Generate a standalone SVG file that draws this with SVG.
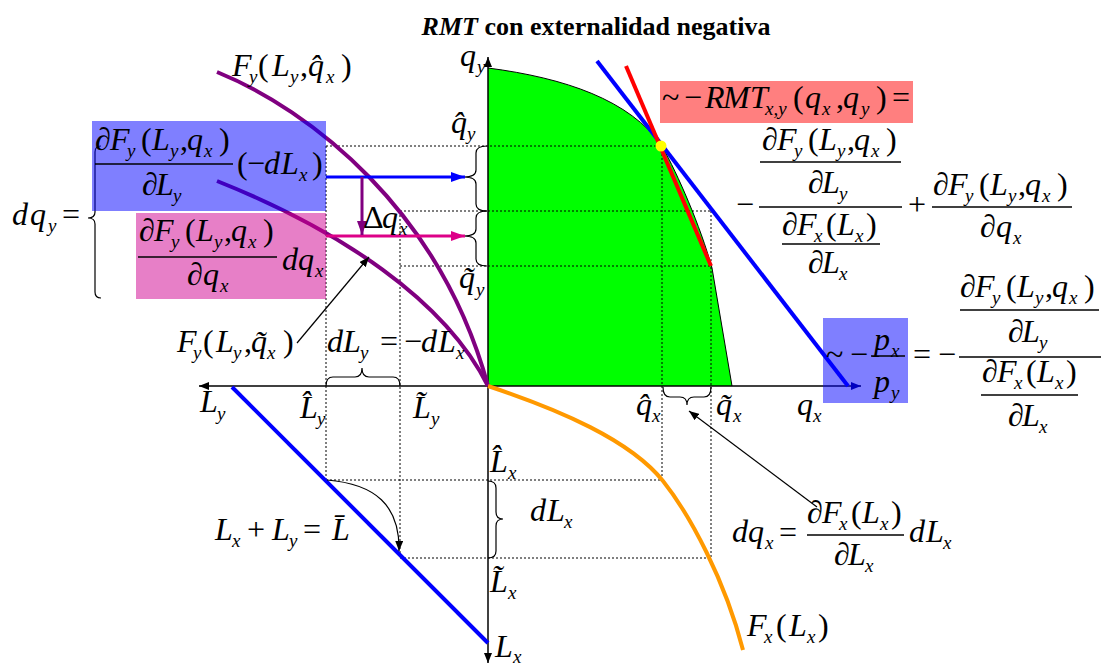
<svg xmlns="http://www.w3.org/2000/svg" width="1105" height="664" viewBox="0 0 1105 664">
<style>
.m{font-family:"Liberation Serif","Times New Roman",serif;font-size:32px;font-style:italic;fill:#000}
.u{font-style:normal}
.s{font-size:19px}
.dot{stroke:#000;stroke-width:1;stroke-dasharray:2 2;fill:none}
.bar{stroke:#000;stroke-width:1.3}
.br{fill:none;stroke:#000;stroke-width:1.2}
.ax{stroke:#000;stroke-width:1.5;fill:none}
.thick{fill:none;stroke-width:4}
</style>
<defs>
<marker id="ax" viewBox="0 0 10 8" refX="10" refY="4" markerWidth="10" markerHeight="8" markerUnits="userSpaceOnUse" orient="auto"><path d="M0,0 L10,4 L0,8 z" fill="#000"/></marker>
<marker id="axn" viewBox="0 0 10 8" refX="10" refY="4" markerWidth="10" markerHeight="8" markerUnits="userSpaceOnUse" orient="auto"><path d="M0,0 L10,4 L0,8 z" fill="#000080"/></marker>
<marker id="ab" viewBox="0 0 10 8" refX="10" refY="4" markerWidth="10" markerHeight="8" markerUnits="userSpaceOnUse" orient="auto"><path d="M0,0 L10,4 L0,8 z" fill="#000"/></marker>
<marker id="mb" viewBox="0 0 14 10" refX="14" refY="5" markerWidth="14" markerHeight="10" markerUnits="userSpaceOnUse" orient="auto"><path d="M0,0 L14,5 L0,10 z" fill="#0000FF"/></marker>
<marker id="mm" viewBox="0 0 14 10" refX="14" refY="5" markerWidth="14" markerHeight="10" markerUnits="userSpaceOnUse" orient="auto"><path d="M0,0 L14,5 L0,10 z" fill="#DD0088"/></marker>
<marker id="mp" viewBox="0 0 14 10" refX="14" refY="5" markerWidth="14" markerHeight="10" markerUnits="userSpaceOnUse" orient="auto"><path d="M0,0 L14,5 L0,10 z" fill="#800080"/></marker>
</defs>
<rect width="1105" height="664" fill="#fff"/>

<g id="title"><text x="596" y="35" text-anchor="middle" font-family="Liberation Serif, serif" font-weight="bold" font-size="26"><tspan font-style="italic">RMT</tspan> con externalidad negativa</text></g>

<g id="ppf-region">
<path d="M488,68 C565,78 630,100 662,146 C678,175 700,225 712,268 L732,386 L488,386 Z" fill="#00FF00"/>
<path d="M488,68 C565,78 630,100 662,146 C678,175 700,225 712,268 L732,386" fill="none" stroke="#000" stroke-width="1"/>
</g>

<g id="grid">
<path class="dot" d="M326,146 H662 M400,211 H711 M400,266 H711 M326,480 H662 M400,558 H711 M326,146 V480 M400,211 V558 M662,146 V480 M711,211 V558"/>
</g>

<g id="axes">
<path class="ax" d="M488,386 V57" marker-end="url(#ax)"/>
<path class="ax" d="M488,386 H199" marker-end="url(#ax)"/>
<path class="ax" d="M488,386 H861" marker-end="url(#axn)"/>
<path class="ax" d="M488,386 V663" marker-end="url(#ax)"/>
</g>

<g id="curves">
<path class="thick" stroke="#800080" d="M217,72 C310,110 440,210 488,386"/>
<path class="thick" stroke="#800080" d="M217,181 C340,230 445,300 488,386"/>
<path class="thick" stroke="#FF9900" d="M488,386 C560,410 630,440 663,481 C690,515 725,580 743,650"/>
<path class="thick" stroke="#0000FF" d="M232,387 L488,643"/>
<path class="thick" stroke="#0000FF" d="M597,61 L848,386"/>
<path class="thick" stroke="#FF0000" d="M626,66 L711,266"/>
<circle cx="661" cy="146" r="5.5" fill="#FFFF00"/>
</g>

<g id="braces">
<path class="br" d="M487,146 Q476,146 476,153 L476,170 Q476,177 464,177 Q476,177 476,184 L476,204 Q476,211 487,211"/>
<path class="br" d="M487,211 Q476,211 476,218 L476,229 Q476,236 464,236 Q476,236 476,243 L476,259 Q476,266 487,266"/>
<path class="br" d="M101,146 Q95,146 95,152 L95,212 Q95,218 88,218 Q95,218 95,224 L95,292 Q95,298 101,298"/>
<path class="br" d="M326,386 Q326,377 333,377 L355,377 Q362,377 362,368 Q362,377 369,377 L393,377 Q400,377 400,386"/>
<path class="br" d="M663,387 Q663,397 670,397 L680,397 Q687,397 687,405 Q687,397 694,397 L704,397 Q711,397 711,387"/>
<path class="br" d="M488,481 Q496,481 496,488 L496,512 Q496,519 503,519 Q496,519 496,526 L496,551 Q496,558 488,558"/>
</g>

<g id="connectors">
<path d="M326,177 H465" stroke="#0000FF" stroke-width="3" fill="none" marker-end="url(#mb)"/>
<path d="M326,236 H465" stroke="#DD0088" stroke-width="3" fill="none" marker-end="url(#mm)"/>
<path d="M362,177 V235" stroke="#800080" stroke-width="3" fill="none" marker-end="url(#mp)"/>
<path d="M297,343 L369,257" stroke="#000" stroke-width="1.2" fill="none" marker-end="url(#ab)"/>
<path d="M817,507 L689,411" stroke="#000" stroke-width="1.2" fill="none" marker-end="url(#ab)"/>
<path d="M327,480 C375,484 400,505 399,551" stroke="#000" stroke-width="1.2" fill="none" marker-end="url(#ab)"/>
</g>

<g id="boxes">
<rect x="92" y="121" width="234" height="90" fill="#0000FF" fill-opacity="0.5"/>
<rect x="136" y="213" width="190" height="86" fill="#D00090" fill-opacity="0.5"/>
<rect x="660" y="81" width="253" height="42" fill="#FF0000" fill-opacity="0.5"/>
<rect x="823" y="318" width="85" height="85" fill="#0000FF" fill-opacity="0.5"/>
</g>

<g id="label-Fy-hat">
<text class="m"><tspan x="232" y="76">F</tspan><tspan class="s" x="249" y="83">y</tspan><tspan class="u" x="258" y="76">(</tspan><tspan x="272" y="76">L</tspan><tspan class="s" x="290" y="83">y</tspan><tspan class="u" x="300" y="76">,</tspan><tspan x="308" y="76">q̂</tspan><tspan class="s" x="326" y="83">x</tspan><tspan class="u" x="341" y="76">)</tspan></text>
</g>

<g id="label-qy-axis">
<text class="m"><tspan x="460" y="66">q</tspan><tspan class="s" x="477" y="73">y</tspan></text>
<text class="m"><tspan x="451" y="133">q̂</tspan><tspan class="s" x="467" y="140">y</tspan></text>
<text class="m"><tspan x="459" y="288">q̃</tspan><tspan class="s" x="476" y="296">y</tspan></text>
</g>

<g id="label-dqy">
<text class="m"><tspan x="12" y="225">d</tspan><tspan x="30" y="225">q</tspan><tspan class="s" x="48" y="232">y</tspan><tspan class="u" x="62" y="225">=</tspan></text>
</g>

<g id="node-blue-term">
<text class="m"><tspan x="95" y="150">∂</tspan><tspan x="110" y="150">F</tspan><tspan class="s" x="127" y="157">y</tspan><tspan class="u" x="141" y="150">(</tspan><tspan x="152" y="150">L</tspan><tspan class="s" x="170" y="157">y</tspan><tspan class="u" x="180" y="150">,</tspan><tspan x="187" y="150">q</tspan><tspan class="s" x="204" y="157">x</tspan><tspan class="u" x="219" y="150">)</tspan></text>
<line class="bar" x1="95" y1="164" x2="233" y2="164"/>
<text class="m"><tspan x="142" y="195">∂</tspan><tspan x="156" y="195">L</tspan><tspan class="s" x="173" y="202">y</tspan></text>
<text class="m"><tspan class="u" x="237" y="174">(</tspan><tspan class="u" x="247" y="174">−</tspan><tspan x="264" y="174">d</tspan><tspan x="281" y="174">L</tspan><tspan class="s" x="299" y="181">x</tspan><tspan class="u" x="312" y="174">)</tspan></text>
</g>

<g id="node-pink-term">
<text class="m"><tspan x="139" y="241">∂</tspan><tspan x="154" y="241">F</tspan><tspan class="s" x="171" y="248">y</tspan><tspan class="u" x="185" y="241">(</tspan><tspan x="196" y="241">L</tspan><tspan class="s" x="214" y="248">y</tspan><tspan class="u" x="224" y="241">,</tspan><tspan x="231" y="241">q</tspan><tspan class="s" x="248" y="248">x</tspan><tspan class="u" x="263" y="241">)</tspan></text>
<line class="bar" x1="138" y1="257" x2="277" y2="257"/>
<text class="m"><tspan x="187" y="285">∂</tspan><tspan x="203" y="285">q</tspan><tspan class="s" x="220" y="292">x</tspan></text>
<text class="m"><tspan x="282" y="270">d</tspan><tspan x="298" y="270">q</tspan><tspan class="s" x="315" y="277">x</tspan></text>
</g>

<g id="label-delta-qx">
<text class="m"><tspan class="u" x="363" y="228">Δ</tspan><tspan x="382" y="228">q</tspan><tspan class="s" x="399" y="235">x</tspan></text>
</g>

<g id="label-Fy-tilde">
<text class="m"><tspan x="177" y="352">F</tspan><tspan class="s" x="193" y="359">y</tspan><tspan class="u" x="203" y="352">(</tspan><tspan x="216" y="352">L</tspan><tspan class="s" x="233" y="359">y</tspan><tspan class="u" x="244" y="352">,</tspan><tspan x="251" y="352">q̃</tspan><tspan class="s" x="267" y="359">x</tspan><tspan class="u" x="283" y="352">)</tspan></text>
</g>

<g id="label-dLy">
<text class="m"><tspan x="327" y="352">d</tspan><tspan x="343" y="352">L</tspan><tspan class="s" x="360" y="359">y</tspan><tspan class="u" x="380" y="352">=</tspan><tspan class="u" x="404" y="352">−</tspan><tspan x="421" y="352">d</tspan><tspan x="438" y="352">L</tspan><tspan class="s" x="456" y="359">x</tspan></text>
</g>

<g id="label-Ly-axis">
<text class="m"><tspan x="200" y="412">L</tspan><tspan class="s" x="217" y="420">y</tspan></text>
<text class="m"><tspan x="300" y="418">L̂</tspan><tspan class="s" x="317" y="425">y</tspan></text>
<text class="m"><tspan x="413" y="418">L̃</tspan><tspan class="s" x="431" y="425">y</tspan></text>
</g>

<g id="label-qx-axis">
<text class="m"><tspan x="636" y="415">q̂</tspan><tspan class="s" x="652" y="422">x</tspan></text>
<text class="m"><tspan x="716" y="415">q̃</tspan><tspan class="s" x="733" y="422">x</tspan></text>
<text class="m"><tspan x="797" y="415">q</tspan><tspan class="s" x="813" y="422">x</tspan></text>
</g>

<g id="label-Lx-axis">
<text class="m"><tspan x="490" y="472">L̂</tspan><tspan class="s" x="508" y="479">x</tspan></text>
<text class="m"><tspan x="490" y="592">L̃</tspan><tspan class="s" x="508" y="599">x</tspan></text>
<text class="m"><tspan x="495" y="657">L</tspan><tspan class="s" x="513" y="663">x</tspan></text>
<text class="m"><tspan x="530" y="521">d</tspan><tspan x="547" y="521">L</tspan><tspan class="s" x="564" y="528">x</tspan></text>
</g>

<g id="label-constraint">
<text class="m"><tspan x="215" y="540">L</tspan><tspan class="s" x="232" y="547">x</tspan><tspan class="u" x="247" y="540">+</tspan><tspan x="272" y="540">L</tspan><tspan class="s" x="289" y="547">y</tspan><tspan class="u" x="303" y="540">=</tspan><tspan x="332" y="540">L̄</tspan></text>
</g>

<g id="node-rmt">
<text class="m"><tspan class="u" x="662" y="108">~</tspan><tspan class="u" x="684" y="108">−</tspan><tspan x="705" y="108">R</tspan><tspan x="723" y="108">M</tspan><tspan x="750" y="108">T</tspan><tspan class="s" x="765" y="115">x,y</tspan><tspan class="u" x="793" y="108">(</tspan><tspan x="805" y="108">q</tspan><tspan class="s" x="822" y="115">x</tspan><tspan class="u" x="836" y="108">,</tspan><tspan x="843" y="108">q</tspan><tspan class="s" x="861" y="115">y</tspan><tspan class="u" x="876" y="108">)</tspan><tspan class="u" x="892" y="108">=</tspan></text>
</g>

<g id="node-rmt-formula">
<text class="m"><tspan x="762" y="150">∂</tspan><tspan x="777" y="150">F</tspan><tspan class="s" x="794" y="157">y</tspan><tspan class="u" x="808" y="150">(</tspan><tspan x="819" y="150">L</tspan><tspan class="s" x="837" y="157">y</tspan><tspan class="u" x="847" y="150">,</tspan><tspan x="854" y="150">q</tspan><tspan class="s" x="871" y="157">x</tspan><tspan class="u" x="886" y="150">)</tspan></text>
<line class="bar" x1="760" y1="162" x2="901" y2="162"/>
<text class="m"><tspan x="808" y="193">∂</tspan><tspan x="822" y="193">L</tspan><tspan class="s" x="839" y="200">y</tspan></text>
<line class="bar" x1="759" y1="207" x2="902" y2="207"/>
<text class="m"><tspan class="u" x="736" y="215">−</tspan></text>
<text class="m"><tspan x="782" y="235">∂</tspan><tspan x="797" y="235">F</tspan><tspan class="s" x="814" y="242">x</tspan><tspan class="u" x="826" y="235">(</tspan><tspan x="837" y="235">L</tspan><tspan class="s" x="855" y="242">x</tspan><tspan class="u" x="866" y="235">)</tspan></text>
<line class="bar" x1="782" y1="244" x2="880" y2="244"/>
<text class="m"><tspan x="808" y="273">∂</tspan><tspan x="822" y="273">L</tspan><tspan class="s" x="839" y="280">x</tspan></text>
<text class="m"><tspan class="u" x="908" y="215">+</tspan></text>
<text class="m"><tspan x="933" y="195">∂</tspan><tspan x="948" y="195">F</tspan><tspan class="s" x="965" y="202">y</tspan><tspan class="u" x="979" y="195">(</tspan><tspan x="990" y="195">L</tspan><tspan class="s" x="1008" y="202">y</tspan><tspan class="u" x="1018" y="195">,</tspan><tspan x="1025" y="195">q</tspan><tspan class="s" x="1042" y="202">x</tspan><tspan class="u" x="1057" y="195">)</tspan></text>
<line class="bar" x1="932" y1="207" x2="1072" y2="207"/>
<text class="m"><tspan x="980" y="237">∂</tspan><tspan x="996" y="237">q</tspan><tspan class="s" x="1013" y="244">x</tspan></text>
</g>

<g id="node-price-ratio">
<text class="m"><tspan class="u" x="826" y="365">~</tspan><tspan class="u" x="850" y="365">−</tspan><tspan x="874" y="350">p</tspan><tspan class="s" x="891" y="357">x</tspan><tspan x="874" y="392">p</tspan><tspan class="s" x="891" y="399">y</tspan></text>
<line class="bar" x1="871" y1="356" x2="905" y2="356"/>
<text class="m"><tspan class="u" x="913" y="365">=</tspan><tspan class="u" x="938" y="365">−</tspan></text>
<text class="m"><tspan x="960" y="297">∂</tspan><tspan x="975" y="297">F</tspan><tspan class="s" x="992" y="304">y</tspan><tspan class="u" x="1006" y="297">(</tspan><tspan x="1017" y="297">L</tspan><tspan class="s" x="1035" y="304">y</tspan><tspan class="u" x="1045" y="297">,</tspan><tspan x="1052" y="297">q</tspan><tspan class="s" x="1069" y="304">x</tspan><tspan class="u" x="1084" y="297">)</tspan></text>
<line class="bar" x1="960" y1="310" x2="1099" y2="310"/>
<text class="m"><tspan x="1008" y="342">∂</tspan><tspan x="1022" y="342">L</tspan><tspan class="s" x="1039" y="349">y</tspan></text>
<line class="bar" x1="959" y1="357" x2="1101" y2="357"/>
<text class="m"><tspan x="982" y="382">∂</tspan><tspan x="997" y="382">F</tspan><tspan class="s" x="1014" y="389">x</tspan><tspan class="u" x="1026" y="382">(</tspan><tspan x="1037" y="382">L</tspan><tspan class="s" x="1055" y="389">x</tspan><tspan class="u" x="1066" y="382">)</tspan></text>
<line class="bar" x1="981" y1="395" x2="1078" y2="395"/>
<text class="m"><tspan x="1008" y="426">∂</tspan><tspan x="1022" y="426">L</tspan><tspan class="s" x="1039" y="433">x</tspan></text>
</g>

<g id="node-dqx">
<text class="m"><tspan x="732" y="542">d</tspan><tspan x="748" y="542">q</tspan><tspan class="s" x="765" y="549">x</tspan><tspan class="u" x="779" y="543">=</tspan></text>
<text class="m"><tspan x="807" y="523">∂</tspan><tspan x="822" y="523">F</tspan><tspan class="s" x="839" y="530">x</tspan><tspan class="u" x="851" y="523">(</tspan><tspan x="862" y="523">L</tspan><tspan class="s" x="880" y="530">x</tspan><tspan class="u" x="891" y="523">)</tspan></text>
<line class="bar" x1="807" y1="535" x2="904" y2="535"/>
<text class="m"><tspan x="834" y="565">∂</tspan><tspan x="848" y="565">L</tspan><tspan class="s" x="865" y="572">x</tspan></text>
<text class="m"><tspan x="909" y="542">d</tspan><tspan x="926" y="542">L</tspan><tspan class="s" x="943" y="549">x</tspan></text>
</g>

<g id="label-Fx">
<text class="m"><tspan x="747" y="636">F</tspan><tspan class="s" x="764" y="643">x</tspan><tspan class="u" x="776" y="636">(</tspan><tspan x="789" y="636">L</tspan><tspan class="s" x="807" y="643">x</tspan><tspan class="u" x="818" y="636">)</tspan></text>
</g>
</svg>
